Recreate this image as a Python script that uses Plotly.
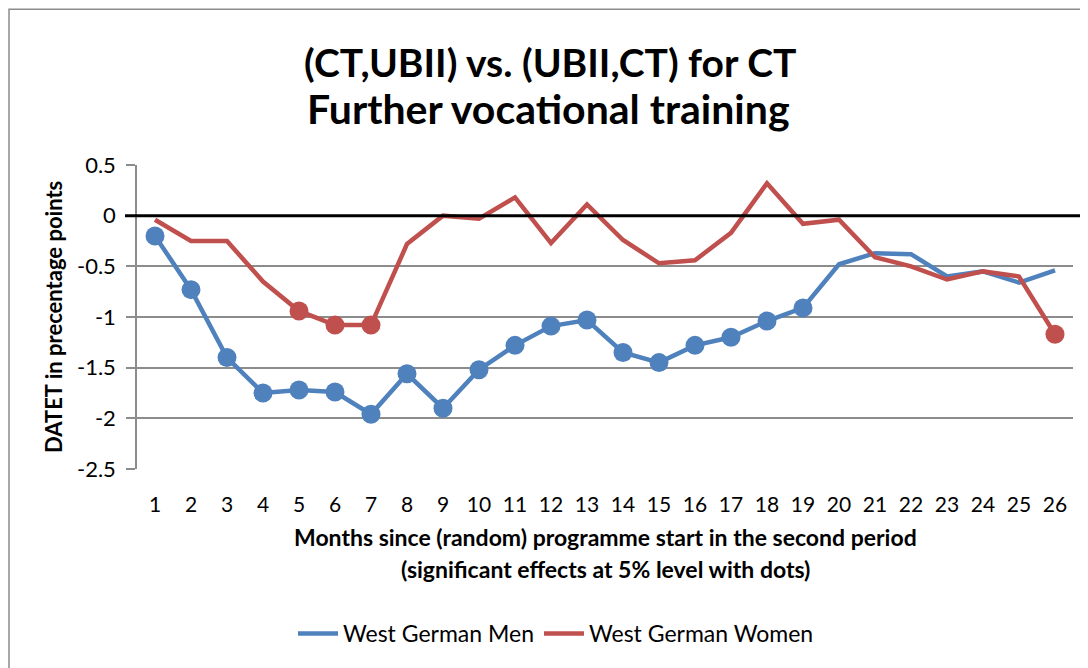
import plotly.graph_objects as go

months = list(range(1, 27))
x_tick_labels = [str(m) for m in months]
y_tick_vals = [0.5, 0.0, -0.5, -1.0, -1.5, -2.0, -2.5]
y_tick_labels = ["0.5", "0", "-0.5", "-1", "-1.5", "-2", "-2.5"]

men = [-0.20, -0.73, -1.40, -1.75, -1.72, -1.74, -1.96, -1.56, -1.90, -1.52,
       -1.28, -1.09, -1.03, -1.35, -1.45, -1.28, -1.20, -1.04, -0.91, -0.48,
       -0.37, -0.38, -0.60, -0.55, -0.66, -0.54]
women = [-0.04, -0.25, -0.25, -0.65, -0.94, -1.08, -1.08, -0.28, 0.00, -0.03,
         0.18, -0.27, 0.11, -0.24, -0.47, -0.44, -0.17, 0.32, -0.08, -0.04,
         -0.41, -0.50, -0.63, -0.55, -0.60, -1.17]
men_sig = [True] * 19 + [False] * 7
women_sig = [False, False, False, False, True, True, True] + [False] * 18 + [True]

BLUE = "#4F81BD"
RED = "#C0504D"
FONT = "Lato"

# page body adds an 8px offset; the plot area is kept at x 137-1073, y 165-469 on the page
OFF = 8
L, R, T, B = 137 - OFF, 15, 165 - OFF, 199
W, H = 1088 - OFF, 668 - OFF
PW = 1073 - 137
PH = 469.3 - 165


def px(xpage):
    return (xpage - 137) / PW


def py(ypage):
    return (469.3 - ypage) / PH


fig = go.Figure()
series = [("West German Men", men, men_sig, BLUE),
          ("West German Women", women, women_sig, RED)]
for name, vals, sig, col in series:
    fig.add_trace(go.Scatter(x=months, y=vals, mode="lines", name=name,
                             line=dict(color=col, width=4.5)))
for name, vals, sig, col in series:
    xs = [m for m, s in zip(months, sig) if s]
    ys = [v for v, s in zip(vals, sig) if s]
    fig.add_trace(go.Scatter(x=xs, y=ys, mode="markers", showlegend=False,
                             marker=dict(color=col, size=19), hoverinfo="skip"))

# zero reference line
fig.add_shape(type="line", xref="paper", yref="y", x0=px(125), x1=px(1082), y0=0, y1=0,
              line=dict(color="black", width=3), layer="above")
# chart border
fig.add_shape(type="rect", xref="paper", yref="paper", x0=px(9), x1=px(1200),
              y0=py(800), y1=py(9), line=dict(color="#8c8c8c", width=1.5))

fig.update_layout(
    width=W, height=H,
    margin=dict(l=L, r=R, t=T, b=B),
    paper_bgcolor="white", plot_bgcolor="white",
    font=dict(family=FONT, color="black", size=22),
    showlegend=True,
    legend=dict(orientation="h", x=px(556), xanchor="center", y=py(634), yanchor="middle",
                font=dict(size=23, family=FONT), itemwidth=40, tracegroupgap=0,
                bgcolor="rgba(0,0,0,0)"),
    xaxis=dict(range=[0.5, 26.5], tickmode="array", tickvals=months, ticktext=x_tick_labels,
               showgrid=False, zeroline=False, showline=False, ticks="",
               ticklabelstandoff=21,
               tickfont=dict(size=21, family=FONT), fixedrange=True),
    yaxis=dict(range=[-2.5, 0.5], tickmode="array", tickvals=y_tick_vals, ticktext=y_tick_labels,
               showgrid=True, gridcolor="#8c8c8c", gridwidth=1.5, zeroline=False,
               showline=True, linecolor="#8c8c8c", linewidth=1.5,
               ticks="outside", ticklen=9, tickcolor="#8c8c8c", tickwidth=1.5,
               tickfont=dict(size=22, family=FONT), ticklabelstandoff=6,
               fixedrange=True),
)

ann = [
    ("<b>(CT,UBII) vs. (UBII,CT) for CT</b>", px(550), py(62), 39, 0),
    ("<b>Further vocational training</b>", px(548), py(108), 41, 0),
    ("<b>Months since (random) programme start in the second period</b>", 0.5, py(537), 23, 0),
    ("<b>(significant effects at 5% level with dots)</b>", 0.5, py(569), 23, 0),
    ("<b>DATET in precentage points</b>", px(53), 0.5, 22, -90),
]
for text, x, y, size, ang in ann:
    fig.add_annotation(xref="paper", yref="paper", showarrow=False,
                       xanchor="center", yanchor="middle",
                       font=dict(family=FONT, color="black", size=size),
                       text=text, x=x, y=y, textangle=ang)

fig.write_html("out.html")
